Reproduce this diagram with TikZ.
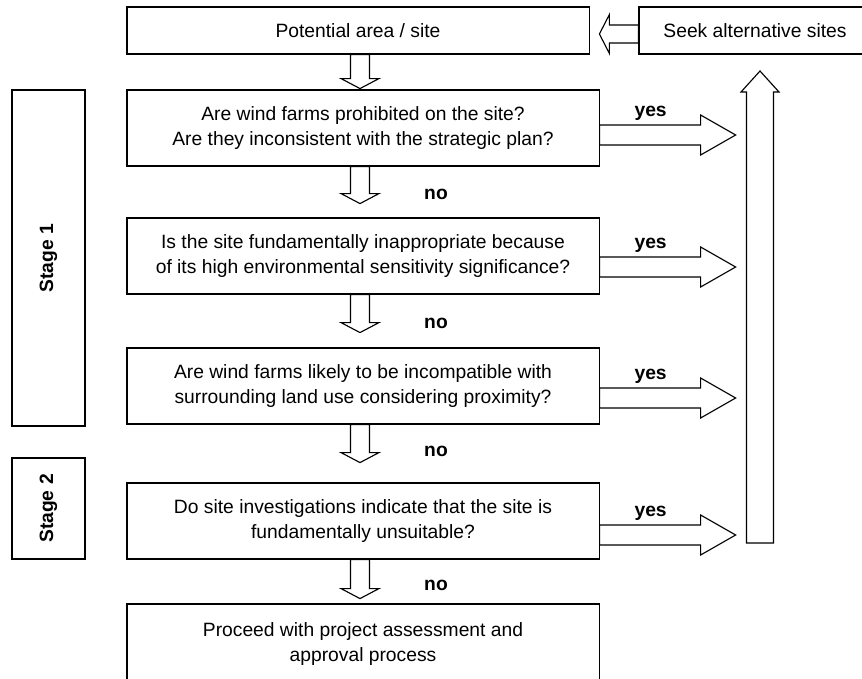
\documentclass[tikz,border=0pt]{standalone}
\usepackage{fontspec}
\setmainfont{Liberation Sans}
\begin{document}
\begin{tikzpicture}[x=0.025cm,y=-0.025cm,line join=miter]
        % Styles
        \tikzstyle{box}=[draw,line width=0.8pt,align=center,inner sep=0pt,font=\fontsize{13.7}{17.8}\selectfont]
        \tikzstyle{question box}=[box,minimum width=11.8cm,minimum height=1.9cm]
        \tikzstyle{stage box}=[box,rotate=90,minimum height=1.825cm,font=\fontsize{13.7}{17.8}\selectfont\bfseries]
        \tikzstyle{hollow arrow}=[draw,line width=0.8pt,fill=white]
        \tikzstyle{answer}=[anchor=base,inner sep=0pt,font=\fontsize{13.7}{17.8}\selectfont\bfseries]
        \useasboundingbox (0,0) rectangle (862,678);
        %boxes
        \node[box,minimum width=11.55cm,minimum height=1.175cm] (site) at (358,30.5) {Potential area / site};
        \node[box,minimum width=5.8cm,minimum height=1.175cm] (seek) at (755,30.5) {Seek alternative sites};
        \node[question box] (q1) at (363,128) {Are wind farms prohibited on the site?\\Are they inconsistent with the strategic plan?};
        \node[question box] (q2) at (363,256) {Is the site fundamentally inappropriate because\\of its high environmental sensitivity significance?};
        \node[question box] (q3) at (363,386) {Are wind farms likely to be incompatible with\\surrounding land use considering proximity?};
        \node[question box] (q4) at (363,521) {Do site investigations indicate that the site is\\fundamentally unsuitable?};
        \node[box,minimum width=11.8cm,minimum height=2cm] (proceed) at (363,644) {Proceed with project assessment and\\approval process};
        %stages
        \node[stage box,minimum width=8.4cm] (stage1) at (48.5,258) {Stage 1};
        \node[stage box,minimum width=2.525cm] (stage2) at (48.5,508.5) {Stage 2};
        %arrows down
        \coordinate (spine) at (360,0);
        \foreach \a/\l in {site/34,q1/37,q2/38,q3/38,q4/39}
            \draw[hollow arrow,shift={(\a.south -| spine)}] (-9.5,0) -- (-9.5,\l-10) -- (-19,\l-10) -- (0,\l) -- (19,\l-10) -- (9.5,\l-10) -- (9.5,0) -- cycle;
        \foreach \a/\l in {q1/33,q2/34,q3/32,q4/31}
            \node[answer] (no\a) at ([shift={(76,\l)}]\a.south -| spine) {no};
        %arrows right
        \foreach \q/\d in {q1/7,q2/11,q3/12,q4/14}
        {
            \draw[hollow arrow,shift={(\q.east)}] (0,\d-10) -- (101,\d-10) -- (101,\d-20) -- (136,\d) -- (101,\d+20) -- (101,\d+10) -- (0,\d+10) -- cycle;
            \node[answer] (yes\q) at ([shift={(51,\d-19)}]\q.east) {yes};
        }
        %back to alternative sites
        \coordinate (loopfoot) at (760,543);
        \draw[hollow arrow,shift={(loopfoot)}] (-13.5,0) -- (-13.5,-451) -- (-19,-451) -- (0,-472) -- (19,-451) -- (13.5,-451) -- (13.5,0) -- cycle;
        \draw[hollow arrow,shift={(seek.west)}] (0,-5.5) -- (-29,-5.5) -- (-29,-16) -- (-39,3.5) -- (-29,23) -- (-29,12.5) -- (0,12.5) -- cycle;
    \end{tikzpicture}
\end{document}
